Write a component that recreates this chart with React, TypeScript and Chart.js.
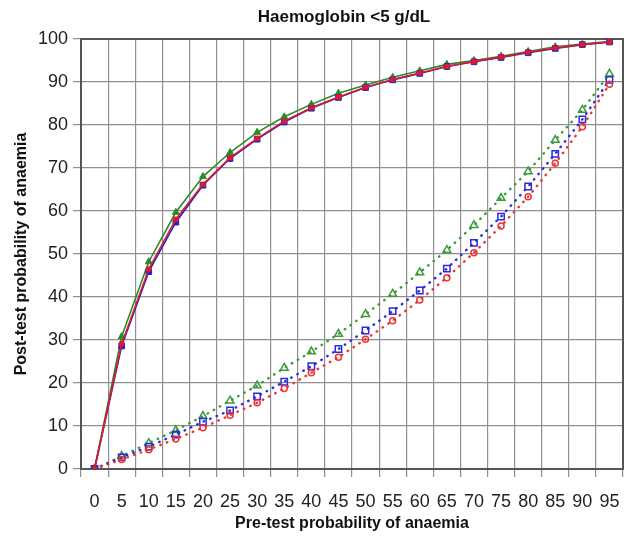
import React, { useEffect, useRef } from "react";
import { Chart, registerables } from "chart.js";

Chart.register(...registerables);

// Pre-test probability categories (%)
const preTest = ["0", "5", "10", "15", "20", "25", "30", "35", "40", "45", "50", "55", "60", "65", "70", "75", "80", "85", "90", "95"];
const yTicks = [0, 10, 20, 30, 40, 50, 60, 70, 80, 90, 100];

// Post-test probability after a positive result (solid lines)
const posGreen = [0, 30.8, 48.2, 59.7, 68.0, 73.6, 78.3, 81.9, 84.8, 87.4, 89.3, 91.1, 92.6, 94.1, 95.0, 96.0, 97.1, 98.2, 98.8, 99.4];
const posBlue = [0, 28.6, 45.9, 57.4, 66.0, 72.2, 76.7, 80.7, 83.9, 86.4, 88.7, 90.5, 92.0, 93.6, 94.7, 95.7, 96.8, 97.8, 98.7, 99.3];
const posRed = [0, 29.1, 46.5, 58.1, 66.2, 72.4, 76.9, 80.9, 84.0, 86.5, 88.8, 90.6, 92.1, 93.6, 94.8, 95.8, 96.9, 97.9, 98.7, 99.3];

// Post-test probability after a negative result (dotted lines)
const negGreen = [0, 3.0, 6.0, 9.0, 12.3, 15.9, 19.4, 23.5, 27.3, 31.4, 36.0, 40.7, 45.7, 50.9, 56.7, 63.0, 69.2, 76.5, 83.5, 91.9];
const negBlue = [0, 2.7, 5.2, 8.0, 11.0, 13.6, 16.9, 20.3, 23.9, 27.9, 32.2, 36.7, 41.5, 46.6, 52.6, 58.7, 65.7, 73.3, 81.3, 90.5];
const negRed = [0, 2.2, 4.5, 7.0, 9.6, 12.5, 15.4, 18.7, 22.4, 26.0, 30.2, 34.5, 39.3, 44.5, 50.3, 56.5, 63.3, 71.1, 79.6, 89.5];

const GREEN = "#2a8a2a";
const BLUE = "#2222cc";
const RED = "#e01a2a";
const GREEN_D = "#3a9a3a";
const BLUE_D = "#2a2ae0";
const RED_D = "#ee3333";

const FONT = "'Liberation Sans', Arial, sans-serif";

// Frame around the plotting area plus the chart heading
const framePlugin = {
  id: "frame",
  beforeDatasetsDraw(chart: any) {
    const { ctx, chartArea } = chart;
    ctx.save();
    ctx.strokeStyle = "#555555";
    ctx.lineWidth = 2;
    ctx.strokeRect(chartArea.left, chartArea.top, chartArea.right - chartArea.left, chartArea.bottom - chartArea.top);
    ctx.restore();
  },
  afterDraw(chart: any) {
    const { ctx, chartArea } = chart;
    ctx.save();
    ctx.fillStyle = "#111111";
    ctx.font = `bold 17px ${FONT}`;
    ctx.textAlign = "center";
    ctx.textBaseline = "middle";
    ctx.fillText("Haemoglobin <5 g/dL", (chartArea.left + chartArea.right) / 2 - 8, 17);
    ctx.restore();
  },
};

export default function App() {
  const ref = useRef<HTMLCanvasElement | null>(null);

  useEffect(() => {
    if (!ref.current) return;
    const solid = (label: string, data: number[], color: string, style: string, r: number, order: number) => ({
      label,
      data,
      borderColor: color,
      backgroundColor: color,
      borderWidth: 1.6,
      pointStyle: style,
      pointRadius: r,
      pointBorderWidth: 1,
      pointBackgroundColor: color,
      pointBorderColor: color,
      tension: 0,
      order,
    });
    const dotted = (label: string, data: number[], color: string, style: string, r: number, order: number) => ({
      label,
      data,
      borderColor: color,
      backgroundColor: "#ffffff",
      borderWidth: 2.4,
      borderDash: [0.5, 6.5],
      borderCapStyle: "round",
      pointStyle: style,
      pointRadius: r,
      pointBorderWidth: 1.5,
      pointBackgroundColor: "rgba(255,255,255,0)",
      pointBorderColor: color,
      tension: 0,
      order,
    });

    const chart = new Chart(ref.current, {
      type: "line",
      data: {
        labels: preTest,
        datasets: [
          dotted("Negative (triangle)", negGreen, GREEN_D, "triangle", 4.5, 6),
          dotted("Negative (square)", negBlue, BLUE_D, "rect", 4.5, 5),
          dotted("Negative (circle)", negRed, RED_D, "circle", 3, 4),
          solid("Positive (triangle)", posGreen, GREEN, "triangle", 4, 3),
          solid("Positive (square)", posBlue, BLUE, "rect", 4, 2),
          solid("Positive (diamond)", posRed, RED, "rect", 3, 1),
        ] as any,
      },
      options: {
        responsive: false,
        animation: false,
        layout: { padding: { top: 39, right: 4, left: 0, bottom: 0 } },
        plugins: {
          legend: { display: false },
          tooltip: { enabled: false },
          title: { display: false },
        },
        scales: {
          x: {
            type: "category",
            offset: true,
            grid: { offset: true, color: "#8f8f8f", lineWidth: 1.2, tickLength: 8, drawTicks: true },
            border: { display: false },
            ticks: {
              autoSkip: false,
              maxRotation: 0,
              minRotation: 0,
              padding: 14,
              color: "#222222",
              font: { family: FONT, size: 18 },
            },
            title: {
              display: true,
              text: "Pre-test probability of anaemia",
              color: "#111111",
              font: { family: FONT, size: 16, weight: "bold" },
              padding: { top: 0, bottom: 15 },
            },
            afterFit(scale: any) {
              scale.height = 79;
              scale.paddingLeft = 0;
              scale.paddingRight = 0;
            },
          },
          y: {
            min: 0,
            max: 100,
            afterBuildTicks(scale: any) {
              scale.ticks = yTicks.map((v) => ({ value: v }));
            },
            grid: { color: "#8f8f8f", lineWidth: 1.2, tickLength: 8 },
            border: { display: false },
            ticks: {
              padding: 5,
              color: "#222222",
              font: { family: FONT, size: 18 },
            },
            title: {
              display: true,
              text: "Post-test probability of anaemia",
              color: "#111111",
              font: { family: FONT, size: 16, weight: "bold" },
              padding: { top: 12, bottom: 0 },
            },
            afterFit(scale: any) {
              scale.width = 81;
              scale.paddingTop = 0;
              scale.paddingBottom = 0;
            },
          },
        },
      } as any,
      plugins: [framePlugin],
    });
    return () => chart.destroy();
  }, []);

  return (
    <div style={{ position: "absolute", left: 0, top: 0, width: 629, height: 548, background: "#ffffff" }}>
      <canvas ref={ref} width={629} height={548} />
    </div>
  );
}
